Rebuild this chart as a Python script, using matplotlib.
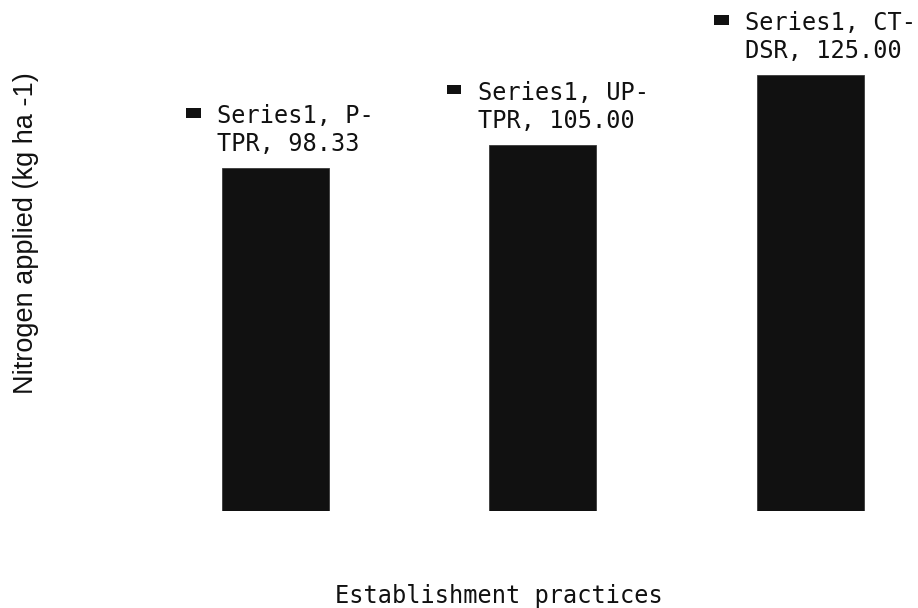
import matplotlib

matplotlib.use("Agg")
import matplotlib.pyplot as plt
from matplotlib.offsetbox import AnnotationBbox, DrawingArea
from matplotlib.patches import Rectangle


series_name = "Series1"
categories = ["P-TPR", "UP-TPR", "CT-DSR"]
values = [98.33, 105.00, 125.00]

INK = "#111111"
MONO = ["DejaVu Sans Mono", "DejaVu Sans"]


def label_text(cat, val):
    head, tail = cat.split("-", 1)
    return f"{series_name}, {head}-\n{tail}, {val:.2f}"


def key_square(ax, anchor):
    da = DrawingArea(10.5, 7, 0, 0)
    da.add_artist(Rectangle((0, 0), 10.5, 7, facecolor=INK, edgecolor="none"))
    ab = AnnotationBbox(
        da,
        (0, 1),
        xycoords=anchor,
        xybox=(-17, -6.2),
        boxcoords="offset points",
        box_alignment=(0.5, 0.5),
        frameon=False,
        pad=0,
    )
    ax.add_artist(ab)


fig = plt.figure(figsize=(9.18, 6.08), dpi=100)
ax = fig.add_axes([141.75 / 918, 97 / 608, 1 - 141.75 / 918, 511 / 608])
ax.set_xlim(-0.5, 2.402)
ax.set_ylim(0, 146.4)
ax.axis("off")

xs = list(range(len(categories)))
ax.bar(xs, values, width=0.4, color=INK, edgecolor="#3a3a3a", linewidth=0.6)

for x, cat, val in zip(xs, categories, values):
    t = ax.annotate(
        label_text(cat, val),
        xy=(x, val),
        xytext=(14.5, 8.5),
        textcoords="offset points",
        ha="center",
        va="bottom",
        multialignment="left",
        fontsize=17,
        family=MONO,
        color=INK,
        linespacing=1.2,
        annotation_clip=False,
    )
    key_square(ax, t)

fig.text(
    498.5 / 918,
    5 / 608,
    "Establishment practices",
    ha="center",
    va="baseline",
    fontsize=17,
    family=MONO,
    color=INK,
)
fig.text(
    26 / 918,
    1 - 233 / 608,
    "Nitrogen applied (kg ha -1)",
    rotation=90,
    ha="center",
    va="center",
    fontsize=19.5,
    family=["Liberation Sans", "DejaVu Sans"],
    color=INK,
)

fig.savefig("out.png", dpi=100, facecolor="white")
